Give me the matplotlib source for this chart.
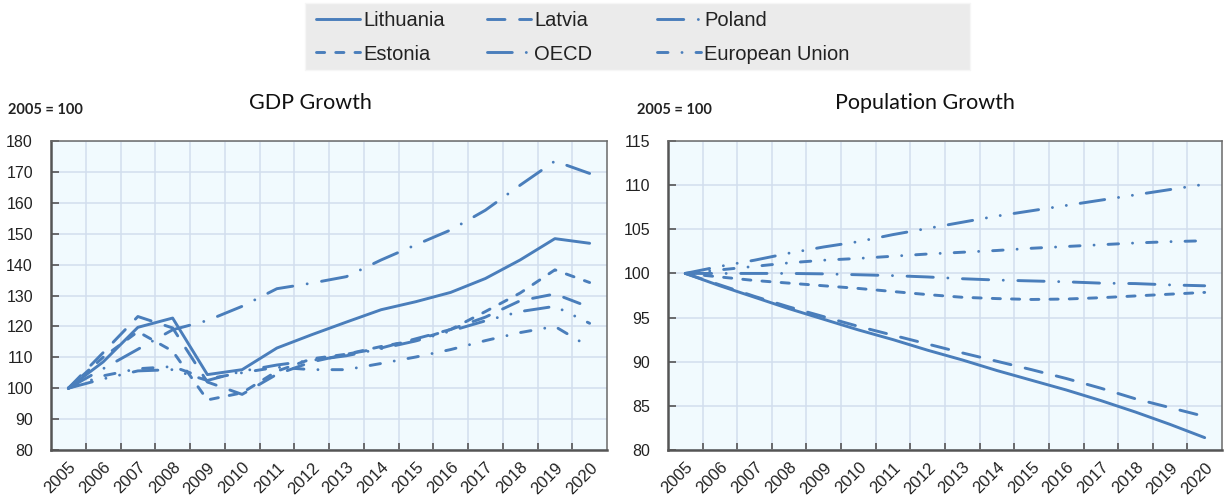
import matplotlib
matplotlib.use("Agg")
import matplotlib.pyplot as plt
from matplotlib.patches import Rectangle

# ---------------- data ----------------
years = [str(y) for y in range(2005, 2021)]

gdp_lithuania = [100, 108.5, 119.7, 122.7, 104.4, 106.0, 113.0, 117.3, 121.4, 125.4, 128.0, 131.0, 135.5, 141.5, 148.4, 146.9]
gdp_latvia    = [100, 111.5, 123.2, 119.5, 102.0, 98.0, 104.5, 108.5, 111.0, 113.0, 116.0, 119.0, 123.0, 128.3, 130.5, 126.2]
gdp_poland    = [100, 106.3, 112.6, 118.9, 121.9, 126.5, 132.2, 134.0, 136.1, 141.5, 146.4, 151.2, 157.6, 165.7, 173.5, 169.5]
gdp_estonia   = [100, 110.0, 118.3, 112.0, 96.2, 98.5, 105.5, 109.5, 111.0, 113.5, 115.5, 119.0, 124.8, 130.8, 138.3, 134.2]
gdp_oecd      = [100, 103.0, 105.6, 106.0, 102.5, 105.5, 107.5, 109.0, 110.5, 112.8, 115.3, 118.5, 121.8, 124.8, 126.5, 121.0]
gdp_eu        = [100, 104.0, 106.3, 107.0, 103.0, 105.0, 106.8, 106.0, 106.0, 108.0, 110.1, 112.5, 115.4, 118.0, 120.0, 113.3]

pop_lithuania = [100, 98.6, 97.3, 96.0, 94.8, 93.6, 92.5, 91.3, 90.2, 89.0, 87.9, 86.8, 85.6, 84.3, 82.9, 81.4]
pop_latvia    = [100, 98.7, 97.4, 96.2, 95.1, 94.0, 93.0, 92.0, 91.0, 90.05, 89.1, 88.1, 87.0, 85.8, 84.8, 83.8]
pop_poland    = [100, 100.0, 100.0, 100.0, 99.95, 99.85, 99.75, 99.6, 99.4, 99.25, 99.15, 99.05, 98.9, 98.85, 98.7, 98.6]
pop_estonia   = [100, 99.6, 99.2, 98.9, 98.6, 98.3, 97.95, 97.6, 97.3, 97.15, 97.05, 97.1, 97.25, 97.45, 97.65, 97.85]
pop_oecd      = [100, 100.8, 101.5, 102.3, 103.0, 103.6, 104.4, 105.1, 105.8, 106.5, 107.1, 107.7, 108.3, 108.9, 109.5, 110.1]
pop_eu        = [100, 100.4, 100.8, 101.2, 101.5, 101.7, 101.95, 102.2, 102.4, 102.6, 102.85, 103.05, 103.25, 103.45, 103.6, 103.7]

series_names = ["Lithuania", "Latvia", "Poland", "Estonia", "OECD", "European Union"]
gdp_series = [gdp_lithuania, gdp_latvia, gdp_poland, gdp_estonia, gdp_oecd, gdp_eu]
pop_series = [pop_lithuania, pop_latvia, pop_poland, pop_estonia, pop_oecd, pop_eu]

# ---------------- styles ----------------
COLOR = "#4A7EBB"
LW = 2.1
styles = {
    "Lithuania": "-",
    "Latvia": (0, (6.0, 5.0)),
    "Poland": (0, (9.0, 5.0, 0.01, 5.0)),
    "Estonia": (0, (2.8, 3.8)),
    "OECD": (0, (8.5, 4.8, 0.01, 4.8, 0.01, 4.8)),
    "European Union": (0, (3.6, 4.8, 0.01, 4.8)),
}

SANS = ["Liberation Sans", "DejaVu Sans"]
TITLEF = ["Lato", "DejaVu Sans"]
W, H = 1224, 500

fig = plt.figure(figsize=(W / 100, H / 100), dpi=100)
fig.patch.set_facecolor("white")

ax_gdp = fig.add_axes([51 / W, 0.10, 556 / W, 0.618])
ax_pop = fig.add_axes([668 / W, 0.10, 554 / W, 0.618])


def style_axes(ax, ylim, ystep, title, title_x, note_x):
    ax.set_facecolor("#F1FAFE")
    ax.set_xlim(-0.5, len(years) - 0.5)
    ax.set_ylim(*ylim)
    ax.set_xticks(list(range(len(years))))
    ax.set_xticklabels(years, rotation=45, ha="right", rotation_mode="anchor",
                       family=SANS, fontsize=12, color="#222222")
    ax.set_xticks([i - 0.5 for i in range(1, len(years))], minor=True)
    yt = list(range(ylim[0], ylim[1] + 1, ystep))
    ax.set_yticks(yt)
    ax.set_yticklabels([str(v) for v in yt], family=SANS, fontsize=11.5, color="#222222")
    ax.tick_params(axis="x", which="major", length=0, pad=7)
    ax.tick_params(axis="x", which="minor", direction="in", length=5, width=1.2, color="#555555")
    ax.tick_params(axis="y", which="major", direction="in", length=6, width=1.2,
                   color="#555555", pad=13)
    ax.grid(True, which="minor", axis="x", color="#D2DEEE", lw=1.1)
    ax.grid(True, which="major", axis="y", color="#D2DEEE", lw=1.1)
    ax.set_axisbelow(True)
    for sp in ax.spines.values():
        sp.set_color("#6A6A6A")
        sp.set_linewidth(1.1)
    for s in ("left", "bottom"):
        ax.spines[s].set_linewidth(1.8)
        ax.spines[s].set_color("#555555")
    fig.text(title_x / W, 1 - 103 / H, title, family=TITLEF, fontsize=15.5,
             color="#111111", ha="center", va="center")
    fig.text(note_x / W, 1 - 110 / H, "2005 = 100", family=TITLEF, fontsize=10.5,
             fontweight="bold", color="#222222", ha="left", va="center")


style_axes(ax_gdp, (80, 180), 10, "GDP Growth", 310, 8)
style_axes(ax_pop, (80, 115), 5, "Population Growth", 925, 637)

x = list(range(len(years)))
for name, vals in zip(series_names, gdp_series):
    ax_gdp.plot(x, vals, color=COLOR, lw=LW, ls=styles[name],
                dash_capstyle="round", solid_capstyle="round", label=name)
for name, vals in zip(series_names, pop_series):
    ax_pop.plot(x, vals, color=COLOR, lw=LW, ls=styles[name],
                dash_capstyle="round", solid_capstyle="round")

# legend: grey box with three two-row columns
fig.patches.append(Rectangle((305 / W, 1 - 70 / H), 665 / W, 67 / H,
                             transform=fig.transFigure, facecolor="#EBEBEB",
                             edgecolor="#F6F6F6", lw=1.0, zorder=0))
handles, labels = ax_gdp.get_legend_handles_labels()
columns = [(0, 3, 316), (1, 4, 487), (2, 5, 657)]
for i, j, xpx in columns:
    lg = fig.legend([handles[i], handles[j]], [labels[i], labels[j]],
                    loc="upper left", bbox_to_anchor=(xpx / W, 1 - 11 / H),
                    frameon=False, borderpad=0.0, borderaxespad=0.0,
                    handlelength=2.2, handletextpad=0.15, labelspacing=0.72,
                    prop={"family": SANS, "size": 14.5})
    for t in lg.get_texts():
        t.set_color("#222222")

fig.savefig("out.png", dpi=100, facecolor="white")
